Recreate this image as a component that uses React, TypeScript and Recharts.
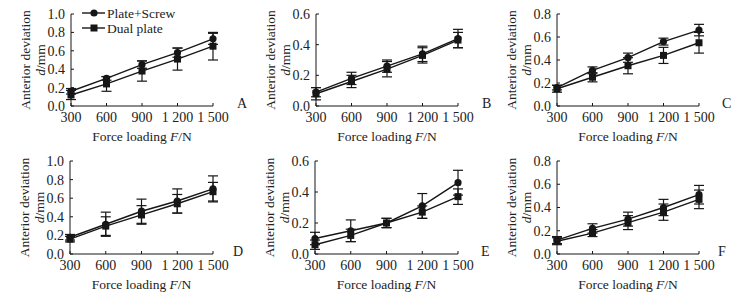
import React from 'react';
import { LineChart, Line, XAxis, YAxis, ErrorBar } from 'recharts';

const forceLoading = [300, 600, 900, 1200, 1500];
const seriesNames = ['Plate+Screw', 'Dual plate'];
const panelLetters = ['A', 'B', 'C', 'D', 'E', 'F'];

const yTicks10 = [0, 0.2, 0.4, 0.6, 0.8, 1.0];
const yTicks08 = [0, 0.2, 0.4, 0.6, 0.8];
const yTicks06 = [0, 0.2, 0.4, 0.6];

// Plate+Screw / Dual plate mean and error, per panel
const aPlateScrew = [0.16, 0.30, 0.45, 0.58, 0.73];
const aPlateScrewErr = [0.03, 0.02, 0.04, 0.05, 0.06];
const aDualPlate = [0.12, 0.24, 0.38, 0.51, 0.65];
const aDualPlateErr = [0.05, 0.08, 0.11, 0.12, 0.15];

const bPlateScrew = [0.09, 0.18, 0.26, 0.34, 0.44];
const bPlateScrewErr = [0.03, 0.04, 0.04, 0.05, 0.06];
const bDualPlate = [0.08, 0.16, 0.24, 0.33, 0.43];
const bDualPlateErr = [0.04, 0.04, 0.05, 0.05, 0.05];

const cPlateScrew = [0.16, 0.31, 0.42, 0.56, 0.66];
const cPlateScrewErr = [0.02, 0.03, 0.04, 0.03, 0.05];
const cDualPlate = [0.15, 0.25, 0.35, 0.44, 0.55];
const cDualPlateErr = [0.03, 0.04, 0.07, 0.07, 0.09];

const dPlateScrew = [0.18, 0.32, 0.46, 0.57, 0.70];
const dPlateScrewErr = [0.03, 0.13, 0.13, 0.13, 0.14];
const dDualPlate = [0.16, 0.30, 0.42, 0.54, 0.67];
const dDualPlateErr = [0.03, 0.10, 0.10, 0.10, 0.10];

const ePlateScrew = [0.10, 0.15, 0.20, 0.31, 0.46];
const ePlateScrewErr = [0.04, 0.07, 0.03, 0.08, 0.08];
const eDualPlate = [0.06, 0.12, 0.20, 0.27, 0.37];
const eDualPlateErr = [0.03, 0.04, 0.03, 0.04, 0.05];

const fPlateScrew = [0.12, 0.22, 0.30, 0.40, 0.51];
const fPlateScrewErr = [0.03, 0.04, 0.06, 0.07, 0.08];
const fDualPlate = [0.11, 0.18, 0.27, 0.36, 0.47];
const fDualPlateErr = [0.03, 0.03, 0.06, 0.07, 0.08];

const INK = '#161616';
const FONT = '"Liberation Serif", "DejaVu Serif", serif';

const buildRows = (ps: number[], psErr: number[], dp: number[], dpErr: number[]) =>
  forceLoading.map((x, i) => ({ x, ps: ps[i], psErr: psErr[i], dp: dp[i], dpErr: dpErr[i] }));

const fmtForce = (v: number) =>
  v >= 1000 ? `${Math.floor(v / 1000)} ${String(v % 1000).padStart(3, '0')}` : String(v);

const SquareDot = (props: any) => {
  const { cx, cy, index } = props;
  if (cx == null || cy == null) return null;
  return <rect key={`sq-${index}`} x={cx - 3.5} y={cy - 3.5} width={7} height={7} fill={INK} />;
};

const CircleDot = (props: any) => {
  const { cx, cy, index } = props;
  if (cx == null || cy == null) return null;
  return <circle key={`ci-${index}`} cx={cx} cy={cy} r={3.6} fill={INK} />;
};

const YLabel = ({ viewBox }: any) => {
  const right = viewBox.x + viewBox.width;
  const cy = viewBox.y + viewBox.height / 2;
  const x1 = right - 46;
  const x2 = right - 31;
  return (
    <g fontFamily={FONT} fontSize={13.5} fill="#222">
      <text x={x1} y={cy} textAnchor="middle" dominantBaseline="central" transform={`rotate(-90 ${x1} ${cy})`}>
        Anterior deviation
      </text>
      <text x={x2} y={cy} textAnchor="middle" dominantBaseline="central" transform={`rotate(-90 ${x2} ${cy})`}>
        <tspan fontStyle="italic">d</tspan>/mm
      </text>
    </g>
  );
};

const XLabel = ({ viewBox }: any) => (
  <text
    x={viewBox.x + viewBox.width / 2}
    y={viewBox.y + 35}
    textAnchor="middle"
    fontFamily={FONT}
    fontSize={13.5}
    fill="#222"
  >
    Force loading <tspan fontStyle="italic">F</tspan>/N
  </text>
);

interface PanelProps {
  boxLeft: number;
  boxTop: number;
  boxHeight: number;
  plotLeft: number;
  plotRight: number;
  plotTop: number;
  plotBottom: number;
  yMax: number;
  yTicks: number[];
  rows: any[];
  letter: string;
  letterX: number;
}

const Panel: React.FC<PanelProps> = (p) => {
  const width = 245;
  const yAxisWidth = p.plotLeft - p.boxLeft;
  const xAxisHeight = p.boxTop + p.boxHeight - p.plotBottom;
  return (
    <div style={{ position: 'absolute', left: p.boxLeft, top: p.boxTop, width, height: p.boxHeight }}>
      <LineChart
        width={width}
        height={p.boxHeight}
        data={p.rows}
        margin={{ top: p.plotTop - p.boxTop, right: p.boxLeft + width - p.plotRight, left: 0, bottom: 0 }}
      >
        <XAxis
          dataKey="x"
          type="number"
          domain={[300, 1500]}
          ticks={forceLoading}
          interval={0}
          tickFormatter={fmtForce}
          height={xAxisHeight}
          stroke={INK}
          tickSize={-3}
          tickMargin={9}
          tick={{ fill: '#222', fontSize: 14, fontFamily: FONT }}
          label={<XLabel />}
        />
        <YAxis
          type="number"
          domain={[0, p.yMax]}
          ticks={p.yTicks}
          interval={0}
          tickFormatter={(v: number) => v.toFixed(1)}
          width={yAxisWidth}
          stroke={INK}
          tickSize={-3}
          tickMargin={9}
          tick={{ fill: '#222', fontSize: 14, fontFamily: FONT }}
          label={<YLabel />}
        />
        <Line dataKey="ps" name={seriesNames[0]} stroke={INK} strokeWidth={1.4} dot={CircleDot} isAnimationActive={false}>
          <ErrorBar dataKey="psErr" width={5} stroke={INK} strokeWidth={1.2} direction="y" />
        </Line>
        <Line dataKey="dp" name={seriesNames[1]} stroke={INK} strokeWidth={1.4} dot={SquareDot} isAnimationActive={false}>
          <ErrorBar dataKey="dpErr" width={5} stroke={INK} strokeWidth={1.2} direction="y" />
        </Line>
      </LineChart>
      <div
        style={{
          position: 'absolute',
          left: p.letterX - p.boxLeft,
          top: p.plotBottom - p.boxTop - 10,
          fontFamily: FONT,
          fontSize: 14,
          color: '#222',
          lineHeight: '16px',
        }}
      >
        {p.letter}
      </div>
    </div>
  );
};

const LegendOverlay = () => (
  <svg style={{ position: 'absolute', left: 78, top: 4 }} width={120} height={32}>
    <g fontFamily={FONT} fontSize={13.5} fill="#222">
      <line x1={4} x2={27} y1={9} y2={9} stroke={INK} strokeWidth={1.4} />
      <circle cx={16} cy={9} r={3.6} fill={INK} />
      <text x={29} y={9} dominantBaseline="central">{seriesNames[0]}</text>
      <line x1={4} x2={27} y1={24} y2={24} stroke={INK} strokeWidth={1.4} />
      <rect x={12.5} y={20.5} width={7} height={7} fill={INK} />
      <text x={29} y={24} dominantBaseline="central">{seriesNames[1]}</text>
    </g>
  </svg>
);

export default function App() {
  const top = { boxTop: 0, boxHeight: 146, plotTop: 14, plotBottom: 106 };
  const bottom = { boxTop: 146, boxHeight: 147, plotTop: 161, plotBottom: 254 };
  return (
    <div style={{ position: 'fixed', left: 0, top: 0, width: 735, height: 293, background: '#fff', overflow: 'hidden' }}>
      <Panel {...top} boxLeft={0} plotLeft={71} plotRight={213} yMax={1.0} yTicks={yTicks10}
        rows={buildRows(aPlateScrew, aPlateScrewErr, aDualPlate, aDualPlateErr)} letter={panelLetters[0]} letterX={237} />
      <Panel {...top} boxLeft={245} plotLeft={316} plotRight={458} yMax={0.6} yTicks={yTicks06}
        rows={buildRows(bPlateScrew, bPlateScrewErr, bDualPlate, bDualPlateErr)} letter={panelLetters[1]} letterX={482} />
      <Panel {...top} boxLeft={490} plotLeft={557} plotRight={699} yMax={0.8} yTicks={yTicks08}
        rows={buildRows(cPlateScrew, cPlateScrewErr, cDualPlate, cDualPlateErr)} letter={panelLetters[2]} letterX={722} />
      <Panel {...bottom} boxLeft={0} plotLeft={70} plotRight={213} yMax={1.0} yTicks={yTicks10}
        rows={buildRows(dPlateScrew, dPlateScrewErr, dDualPlate, dDualPlateErr)} letter={panelLetters[3]} letterX={233} />
      <Panel {...bottom} boxLeft={245} plotLeft={315} plotRight={458} yMax={0.6} yTicks={yTicks06}
        rows={buildRows(ePlateScrew, ePlateScrewErr, eDualPlate, eDualPlateErr)} letter={panelLetters[4]} letterX={481} />
      <Panel {...bottom} boxLeft={490} plotLeft={557} plotRight={699} yMax={0.8} yTicks={yTicks08}
        rows={buildRows(fPlateScrew, fPlateScrewErr, fDualPlate, fDualPlateErr)} letter={panelLetters[5]} letterX={718} />
      <LegendOverlay />
    </div>
  );
}
